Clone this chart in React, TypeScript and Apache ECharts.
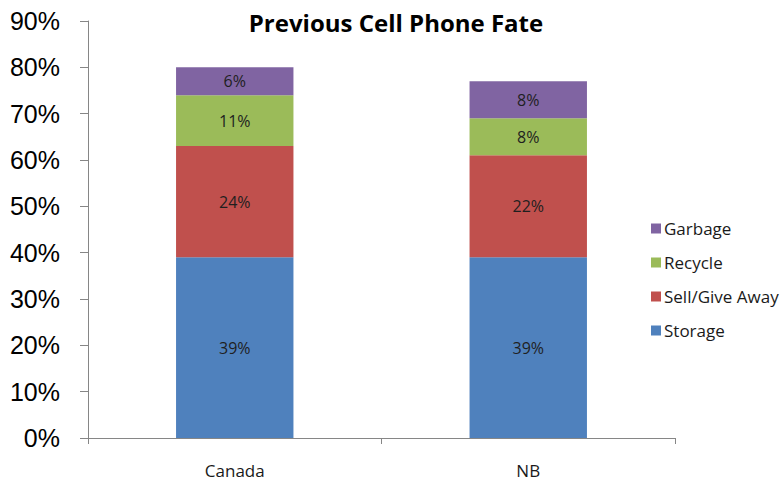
import React, { useEffect, useRef } from "react";
import * as echarts from "echarts";

const categories = ["Canada", "NB"];
const storage = [39, 39];
const sellGiveAway = [24, 22];
const recycle = [11, 8];
const garbage = [6, 8];
const yTicks = { min: 0, max: 90, interval: 10 };

export default function App() {
  const ref = useRef<HTMLDivElement>(null);
  useEffect(() => {
    const chart = echarts.init(ref.current!, null, { renderer: "svg" });
    const label = {
      show: true,
      position: "inside",
      formatter: "{c}%",
      color: "#1f1f1f",
      fontSize: 16,
      fontFamily: "Open Sans",
    };
    const mk = (name: string, data: number[], color: string) => ({
      name,
      type: "bar",
      stack: "total",
      data,
      barWidth: "40%",
      itemStyle: { color },
      label,
    });
    chart.setOption({
      animation: false,
      backgroundColor: "#ffffff",
      graphic: [
        {
          type: "text",
          x: 396,
          y: 22,
          style: {
            text: "Previous Cell Phone Fate",
            font: "bold 24px 'Open Sans'",
            fill: "#000",
            align: "center",
            verticalAlign: "middle",
          },
        },
      ],
      grid: { left: 88, right: 107, top: 21, bottom: 45, containLabel: false },
      legend: {
        orient: "vertical",
        left: 646,
        top: 215,
        itemWidth: 10,
        itemHeight: 10,
        itemGap: 17,
        icon: "rect",
        data: ["Garbage", "Recycle", "Sell/Give Away", "Storage"],
        textStyle: { fontSize: 17, fontFamily: "Open Sans", color: "#1a1a1a", padding: [0, 0, 0, -2] },
      },
      xAxis: {
        type: "category",
        data: categories,
        boundaryGap: true,
        axisLine: { lineStyle: { color: "#868686" } },
        axisTick: { show: true, length: 6, lineStyle: { color: "#868686" } },
        axisLabel: { margin: 24, fontSize: 17, fontFamily: "Open Sans", color: "#1a1a1a" },
      },
      yAxis: {
        type: "value",
        min: yTicks.min,
        max: yTicks.max,
        interval: yTicks.interval,
        axisLine: { show: true, lineStyle: { color: "#868686" } },
        axisTick: { show: true, length: 8, lineStyle: { color: "#868686" } },
        splitLine: { show: false },
        axisLabel: {
          formatter: "{value}%",
          margin: 28,
          fontSize: 25,
          fontFamily: "Liberation Sans",
          color: "#000",
        },
      },
      series: [
        mk("Storage", storage, "#4F81BD"),
        mk("Sell/Give Away", sellGiveAway, "#C0504D"),
        mk("Recycle", recycle, "#9BBB59"),
        mk("Garbage", garbage, "#8064A2"),
      ],
    });
    return () => chart.dispose();
  }, []);
  return <div ref={ref} style={{ width: 782, height: 483, position: "absolute", left: 0, top: 0 }} />;
}
